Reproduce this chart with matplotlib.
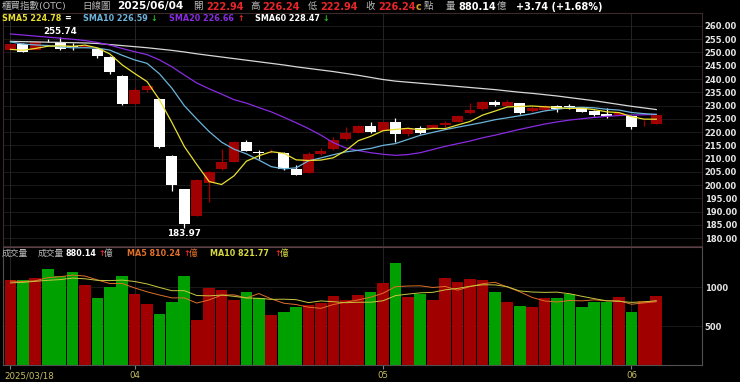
import matplotlib
matplotlib.use('Agg')
import matplotlib.pyplot as plt
import numpy as np
import pandas as pd

plt.rcParams['font.family'] = ['DejaVu Sans', 'Noto Sans CJK TC']

# daily candles, 2025/03/18 .. 2025/06/04
opens = [251.0, 253.1, 251.0, 254.5, 254.1, 252.2, 252.0, 251.3, 248.4, 241.2,
         230.7, 236.0, 232.5, 211.1, 198.4, 188.4, 200.6, 205.9, 208.8, 216.3,
         212.5, 212.3, 212.2, 205.9, 204.6, 211.7, 213.5, 217.2, 219.7, 222.4,
         220.4, 223.9, 219.4, 221.6, 221.4, 222.5, 223.9, 227.1, 228.6, 231.4,
         229.9, 230.8, 228.0, 228.3, 229.9, 229.6, 228.9, 227.9, 226.9, 226.5,
         226.2, 222.5, 222.94]
highs = [253.3, 253.4, 254.5, 255.0, 255.74, 253.5, 252.9, 251.6, 248.6, 241.4,
         236.7, 237.6, 232.7, 211.3, 198.6, 202.3, 205.2, 213.5, 216.6, 217.0,
         213.3, 213.5, 212.4, 207.5, 212.3, 213.9, 218.2, 221.8, 222.6, 223.8,
         223.9, 225.4, 221.8, 222.2, 223.0, 224.1, 226.6, 230.8, 231.6, 232.0,
         231.9, 231.0, 229.9, 230.2, 230.1, 230.5, 229.1, 228.3, 229.2, 227.4,
         226.4, 224.5, 226.24]
lows = [250.8, 250.0, 250.8, 253.9, 251.0, 251.0, 251.8, 248.0, 241.8, 230.3,
        230.5, 235.0, 213.8, 197.7, 183.97, 188.2, 193.7, 205.7, 208.6, 212.7,
        209.8, 212.1, 205.8, 203.6, 204.4, 211.5, 213.3, 217.0, 219.5, 219.7,
        220.2, 216.3, 218.5, 219.3, 221.2, 221.5, 223.7, 226.9, 228.4, 230.0,
        229.7, 226.9, 227.4, 228.1, 227.6, 228.7, 227.5, 226.0, 225.2, 226.3,
        221.0, 222.3, 222.94]
closes = [253.1, 250.3, 253.9, 254.2, 251.2, 252.0, 252.6, 248.7, 242.8, 230.5,
          235.8, 237.3, 214.3, 200.0, 185.2, 202.0, 205.0, 208.8, 216.3, 212.9,
          212.2, 212.6, 206.0, 203.8, 211.7, 213.0, 217.0, 219.5, 222.4, 219.9,
          223.7, 219.4, 221.6, 219.5, 222.6, 223.3, 226.2, 228.3, 231.4, 230.2,
          231.2, 227.1, 229.2, 230.0, 228.7, 229.4, 227.7, 226.4, 225.9, 227.2,
          222.0, 222.8, 226.24]
prev_closes = [258.0, 257.5, 256.5, 256.0, 256.0, 252.0, 250.5, 250.0, 250.3]

volumes = [1090, 1090, 1111, 1227, 1141, 1197, 1026, 863, 996, 1145,
           910, 778, 658, 812, 1145, 577, 983, 962, 833, 940,
           863, 641, 684, 748, 769, 791, 885, 833, 897, 940,
           1047, 1304, 876, 910, 833, 1111, 1068, 1103, 1090, 932,
           812, 761, 739, 863, 863, 910, 739, 803, 803, 867,
           684, 825, 880.14]
prev_volumes = [1020, 980, 1100, 1050, 1000, 1120, 1060, 1030, 1080]

sma20 = [257.0, 256.6, 256.2, 255.8, 255.4, 255.0, 254.5, 253.8, 252.8, 251.5,
         250.3, 249.2, 247.2, 244.6, 241.5, 238.5, 236.3, 234.3, 232.2, 230.9,
         229.2, 227.6, 225.6, 223.5, 221.3, 218.8, 216.0, 214.0, 213.0, 212.2,
         211.6, 211.2, 211.5, 212.2, 213.4, 214.6, 215.6, 216.6, 217.8, 218.8,
         219.9, 221.0, 222.0, 223.0, 223.8, 224.5, 225.0, 225.5, 225.9, 226.2,
         226.4, 226.5, 226.66]
sma60 = [254.2, 254.1, 254.0, 253.9, 253.8, 253.7, 253.6, 253.4, 253.0, 252.6,
         252.2, 251.8, 251.3, 250.8, 250.2, 249.5, 248.9, 248.3, 247.7, 247.1,
         246.5, 245.9, 245.3, 244.6, 244.0, 243.4, 242.8, 242.1, 241.4, 240.6,
         239.8, 239.2, 238.8, 238.4, 238.0, 237.6, 237.2, 236.8, 236.4, 236.0,
         235.5, 235.0, 234.6, 234.1, 233.6, 233.0, 232.4, 231.8, 231.1, 230.4,
         229.7, 229.1, 228.47]

xtick_pos = [0, 10, 30, 50]
xtick_labels = ['2025/03/18', '04', '05', '06']

n = len(closes)
x = np.arange(n)
o = np.array(opens); c = np.array(closes)
up = c >= o

cl_all = pd.Series(prev_closes + closes)
sma5 = cl_all.rolling(5).mean().values[len(prev_closes):]
sma10 = cl_all.rolling(10).mean().values[len(prev_closes):]
vol_all = pd.Series(prev_volumes + volumes)
vma5 = vol_all.rolling(5).mean().values[len(prev_volumes):]
vma10 = vol_all.rolling(10).mean().values[len(prev_volumes):]

RED = '#a00000'
GREEN = '#00a000'
W, H = 740, 382

fig = plt.figure(figsize=(7.4, 3.82), dpi=100, facecolor='black')


def px_axes(l, t, r, b):
    a = fig.add_axes([l / W, 1 - b / H, (r - l) / W, (b - t) / H])
    a.set_facecolor('black')
    return a


ax = px_axes(3, 13, 702, 246)
axv = px_axes(3, 247, 702, 365)

# price panel
for lv in range(180, 261, 5):
    ax.axhline(lv, color='#1f1f1f', lw=0.6, zorder=0)
for xp in xtick_pos:
    ax.axvline(xp, color='#2a2a2a', lw=0.6, zorder=0)
    axv.axvline(xp, color='#2a2a2a', lw=0.6, zorder=0)

cols = np.where(up, RED, '#ffffff')
ax.vlines(x, lows, highs, color=cols, lw=0.9, zorder=2)
body = np.maximum(np.abs(c - o), 0.3)
ax.bar(x, body, bottom=np.minimum(o, c), width=0.88, color=cols, zorder=3)

ax.plot(x, sma60, color='#d8d8d8', lw=0.9, zorder=4)
ax.plot(x, sma20, color='#8a2be2', lw=0.9, zorder=4)
ax.plot(x, sma10, color='#6cb4dc', lw=0.9, zorder=4)
ax.plot(x, sma5, color='#e8e030', lw=0.9, zorder=4)

ih = int(np.argmax(highs)); il = int(np.argmin(lows))
ax.annotate(f'{highs[ih]:.2f}', (ih, highs[ih]), xytext=(0, 1), textcoords='offset points',
            ha='center', va='bottom', color='white', fontsize=6.3, fontweight='bold')
ax.annotate(f'{lows[il]:.2f}', (il, lows[il]), xytext=(0, -1), textcoords='offset points',
            ha='center', va='top', color='white', fontsize=6.3, fontweight='bold')

ax.set_xlim(-0.6, 55.68)
ax.set_ylim(177.0, 264.9)
ax.yaxis.tick_right()
ax.set_yticks(range(180, 261, 5))
ax.set_yticklabels([f'{v:.2f}' for v in range(180, 261, 5)])
ax.tick_params(axis='y', length=0, pad=2, labelcolor='#e6e6e6', labelsize=6)
for t in ax.get_yticklabels():
    t.set_fontweight('bold')
ax.set_xticks([])
for s in ax.spines.values():
    s.set_color('#3c2a2a'); s.set_linewidth(0.8)

# volume panel
for lv in (500, 1000):
    axv.axhline(lv, color='#1f1f1f', lw=0.6, zorder=0)
vcols = np.where(up, RED, GREEN)
axv.bar(x, volumes, width=0.94, color=vcols, zorder=2)
axv.plot(x, vma5, color='#e07028', lw=0.7, zorder=3)
axv.plot(x, vma10, color='#c8c840', lw=0.7, zorder=3)
axv.set_xlim(-0.6, 55.68)
axv.set_ylim(0, 1513)
axv.yaxis.tick_right()
axv.set_yticks([500, 1000])
axv.set_yticklabels(['500', '1000'])
axv.tick_params(axis='y', length=0, pad=2, labelcolor='#e6e6e6', labelsize=6)
for t in axv.get_yticklabels():
    t.set_fontweight('bold')
axv.set_xticks(xtick_pos)
axv.set_xticklabels([])
axv.tick_params(axis='x', length=3, color='#808080')
for s in axv.spines.values():
    s.set_color('#505050'); s.set_linewidth(0.8)
axv.spines['top'].set_color('#5a4048')
for xp, lab in zip(xtick_pos, xtick_labels):
    axv.text(xp - 0.5 if xp == 0 else xp, -0.09, lab, transform=axv.get_xaxis_transform(),
             ha='left' if xp == 0 else 'center', va='center', color='#c8c060', fontsize=6.2)


def txt(px, py, s, color, size=5.8, weight='bold'):
    fig.text(px / W, 1 - py / H, s, color=color, fontsize=size, fontweight=weight,
             ha='left', va='center')


GRAY = '#b8b8b8'
HRED = '#e8262a'
ARROW_G = '#20c020'
y1 = 6.5
txt(2, y1, '櫃買指數(OTC)', GRAY, 6.8, 'normal')
txt(82, y1, '日線圖', GRAY, 6.8, 'normal')
txt(117.5, y1, '2025/06/04', 'white', 7.6)
txt(193, y1, '開', GRAY, 6.8, 'normal')
txt(206, y1, '222.94', HRED, 7)
txt(250, y1, '高', GRAY, 6.8, 'normal')
txt(262, y1, '226.24', HRED, 7)
txt(308, y1, '低', GRAY, 6.8, 'normal')
txt(320, y1, '222.94', HRED, 7)
txt(365, y1, '收', GRAY, 6.8, 'normal')
txt(378, y1, '226.24', HRED, 7)
txt(416, y1, 'c', '#d8a020', 7)
txt(423.5, y1, '點', GRAY, 6.8, 'normal')
txt(446, y1, '量', GRAY, 6.8, 'normal')
txt(458, y1, '880.14', 'white', 7)
txt(497, y1, '億', GRAY, 6.8, 'normal')
txt(516, y1, '+3.74 (+1.68%)', 'white', 7)

y2 = 18.5
txt(2, y2, 'SMA5 224.78', '#e8e030')
txt(64, y2, '=', 'white')
txt(83, y2, 'SMA10 226.59', '#6cb4dc')
txt(150, y2, '↓', ARROW_G)
txt(169, y2, 'SMA20 226.66', '#8a2be2')
txt(237, y2, '↑', HRED)
txt(255, y2, 'SMA60 228.47', 'white')
txt(322, y2, '↓', ARROW_G)

y3 = 253.5
txt(2, y3, '成交量', GRAY, 6.3, 'normal')
txt(38, y3, '成交量', GRAY, 6.3, 'normal')
txt(66, y3, '880.14', 'white')
txt(98, y3, '↑', HRED)
txt(104, y3, '億', GRAY, 6.3, 'normal')
txt(127, y3, 'MA5 810.24', '#e07028')
txt(183, y3, '↑', HRED)
txt(189, y3, '億', '#e07028', 6.3, 'normal')
txt(210, y3, 'MA10 821.77', '#d8d840')
txt(274, y3, '↑', HRED)
txt(280, y3, '億', '#d8d840', 6.3, 'normal')

fig.savefig('out.png', dpi=100, facecolor='black')
